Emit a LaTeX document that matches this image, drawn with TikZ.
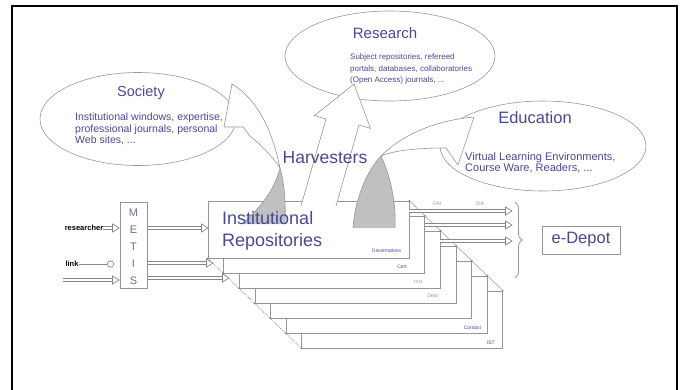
\documentclass[tikz,border=0pt]{standalone}
\usepackage{fontspec}
\setmainfont{Liberation Sans}
\usetikzlibrary{shapes.geometric, arrows.meta, calc, decorations.pathreplacing}
\definecolor{txt}{RGB}{72,72,150}
\definecolor{ln}{RGB}{150,150,150}
\definecolor{sh}{RGB}{135,135,135}
\definecolor{gfill}{RGB}{192,192,192}
\definecolor{mtxt}{RGB}{110,110,150}
\tikzset{
 ell/.style={ellipse, draw=ln, line width=.6pt, inner sep=0pt},
 ttl/.style={text=txt, inner sep=0pt},
 bodytxt/.style={text=txt, inner sep=0pt, align=left, anchor=west},
 stackbox/.style={rectangle, draw=ln, fill=white, line width=.6pt, minimum width=201pt, minimum height=57pt, inner sep=0pt},
 lbl/.style={text=txt, font=\fontsize{5}{6}\selectfont, inner sep=0pt, anchor=south east},
 shaftout/.style={draw=sh, line width=4pt},
 shaftin/.style={draw=white, line width=2pt},
 blockarrow/.style={draw=ln, line width=.6pt},
 inlbl/.style={text=black, font=\bfseries\fontsize{7.5}{8}\selectfont, inner sep=0pt},
}
\newcommand\hollowarrow[2]{%
  \coordinate (hb) at ($#2!6.5pt!#1$);
  \draw[shaftout] #1 -- (hb);
  \draw[shaftin] #1 -- (hb);
  \draw[draw=sh, line width=.7pt, fill=white] #2 -- ($(hb)!4pt!90:#2$) -- ($(hb)!4pt!-90:#2$) -- cycle;}
\begin{document}
\begin{tikzpicture}[x=1pt,y=-1pt]
\useasboundingbox (0,0) rectangle (683,389);
% frame
\draw[black, line width=1.3pt] (12,395) -- (12,6) -- (677,6) -- (677,395);

% ellipses
\node[ell, minimum width=196pt, minimum height=93pt] (soc) at (138,119) {};
\node[ell, minimum width=210pt, minimum height=90pt] (res) at (390,56) {};
\node[ell, minimum width=206pt, minimum height=90pt] (edu) at (543,146) {};

\node[ttl, font=\fontsize{14.5}{16}\selectfont] (socT) at (141,93) {Society};
\node[bodytxt, font=\fontsize{10.5}{11.5}\selectfont] (socB) at (75,129) {Institutional windows, expertise,\\professional journals, personal\\Web sites, ...};
\node[ttl, font=\fontsize{15}{16}\selectfont] (resT) at (385,33) {Research};
\node[bodytxt, font=\fontsize{8}{11.5}\selectfont] (resB) at (350,69) {Subject repositories, refereed\\portals, databases, collaboratories\\(Open Access) journals, ...};
\node[ttl, font=\fontsize{16.5}{18}\selectfont] (eduT) at (535,118) {Education};
\node[bodytxt, font=\fontsize{11}{11}\selectfont] (eduB) at (465,163) {Virtual Learning Environments,\\Course Ware, Readers, ...};

% stack of repositories
\foreach \i in {6,5,...,0} {
  \node[stackbox] (box\i) at ({308.5+15.6*\i},{229.5+15*\i}) {};
}
\draw[ln, densely dotted, line width=.8pt] (box0.south west) -- (box6.south west);
\draw[ln, line width=.5pt] (box0.north east) -- (box6.north east);
\foreach \i in {0,...,6} {
  \fill[black!55] (box\i.south west) circle (0.8pt);
  \fill[black!55] (box\i.north east) circle (0.8pt);
}
\node[lbl] (l0) at ($(box0.south east)+(-8,-6)$) {Dissertations};
\node[lbl] (l1) at ($(box1.south east)+(-18,-5)$) {Cert};
\node[lbl, text=ln] (l2) at ($(box2.south east)+(-18,-5)$) {Inst};
\node[lbl, text=ln] (l3) at ($(box3.south east)+(-18,-5)$) {Dept};
\node[lbl] (l5) at ($(box5.south east)+(-6,-4)$) {Contact};
\node[lbl] (l6) at ($(box6.south east)+(-8,-4)$) {IST};

% METIS
\node[draw=ln, line width=.6pt, minimum width=27pt, minimum height=86pt, inner sep=0pt] (metis) at (133.5,245) {};
\foreach \l/\y in {M/213, E/230, T/247, I/264, S/281} {
  \node[text=mtxt, font=\fontsize{11}{12}\selectfont, inner sep=0pt] (metis\l) at (133.5,\y) {\l};
}

% inputs
\node[inlbl] (inres) at (84,228) {researcher};
\node[inlbl] (inlink) at (72,264) {link};
\coordinate (m1) at (119,228);
\coordinate (m2) at (114,264);
\coordinate (in3) at (63,280);
\coordinate (m3) at (119,280);
\hollowarrow{(inres.east)}{(m1)}
\draw[sh, line width=.7pt, -{Circle[open, length=7pt]}] (inlink.east) -- (m2);
\hollowarrow{(in3)}{(m3)}

% METIS to repositories
\coordinate (o1) at (148,228); \coordinate (t1) at (208,228);
\coordinate (o2) at (148,263); \coordinate (t2) at (213,263);
\coordinate (o3) at (148,278); \coordinate (t3) at (229,278);
\hollowarrow{(o1)}{(t1)}
\hollowarrow{(o2)}{(t2)}
\hollowarrow{(o3)}{(t3)}

% outputs to e-Depot
\coordinate (r1a) at (409,211); \coordinate (r1b) at (512,211);
\coordinate (r2a) at (425,225); \coordinate (r2b) at (512,225);
\coordinate (r3a) at (440,241); \coordinate (r3b) at (512,241);
\hollowarrow{(r1a)}{(r1b)}
\hollowarrow{(r2a)}{(r2b)}
\hollowarrow{(r3a)}{(r3b)}
\node[text=ln, font=\fontsize{5}{6}\selectfont, inner sep=0pt] (oai) at (437,204) {OAI};
\node[text=ln, font=\fontsize{5}{6}\selectfont, inner sep=0pt] (dia) at (480,204) {DIA};

\coordinate (br1) at (515,202);
\coordinate (br2) at (515,278);
\draw[ln, line width=.8pt, decorate, decoration={brace, amplitude=7pt}] (br1) -- (br2);
\node[draw=ln, line width=.6pt, minimum width=78pt, minimum height=28pt, inner sep=0pt, text=txt, font=\fontsize{16.5}{18}\selectfont] (edep) at (581,240) {e-Depot};

% block arrow to Society
\fill[white] (285,224) .. controls (286,200) and (284,182) .. (280,168) .. controls (272,130) and (258,100) .. (232,84) -- (224,127) -- (243,127) -- (250,136) .. controls (262,146) and (274,158) .. (280,168) .. controls (274,192) and (258,210) .. (242,224) -- cycle;
\fill[gfill] (280,168) .. controls (274,192) and (258,210) .. (242,224) -- (285,224) .. controls (286,200) and (284,182) .. (280,168) -- cycle;
\draw[blockarrow] (285,224) .. controls (286,200) and (284,182) .. (280,168) .. controls (272,130) and (258,100) .. (232,84) -- (224,127) -- (243,127) -- (250,136) .. controls (262,146) and (274,158) .. (280,168) .. controls (274,192) and (258,210) .. (242,224);

% block arrow to Education
\fill[white] (353,228) .. controls (355,200) and (366,172) .. (381,156) .. controls (405,132) and (440,120) .. (474,117) -- (458,165) -- (446,148) .. controls (420,148) and (395,150) .. (381,156) .. controls (392,180) and (396,205) .. (395,228) -- cycle;
\fill[gfill] (353,228) .. controls (355,200) and (366,172) .. (381,156) .. controls (392,180) and (396,205) .. (395,228) -- cycle;
\draw[blockarrow] (353,228) .. controls (355,200) and (366,172) .. (381,156) .. controls (405,132) and (440,120) .. (474,117) -- (458,165) -- (446,148) .. controls (420,148) and (395,150) .. (381,156) .. controls (392,180) and (396,205) .. (395,228);

% straight arrow to Research
\fill[white] (301,206) -- (326,119) -- (314.5,115.6) -- (354,84) -- (370.5,128.4) -- (359,125) -- (336,206) -- cycle;
\draw[blockarrow] (301,206) -- (326,119) -- (314.5,115.6) -- (354,84) -- (370.5,128.4) -- (359,125) -- (336,206);

\node[ttl, font=\fontsize{17.5}{19}\selectfont] (harv) at (325,158) {Harvesters};
\node[bodytxt, font=\fontsize{18}{22}\selectfont] (irT) at (222,231) {Institutional\\Repositories};
\end{tikzpicture}
\end{document}
